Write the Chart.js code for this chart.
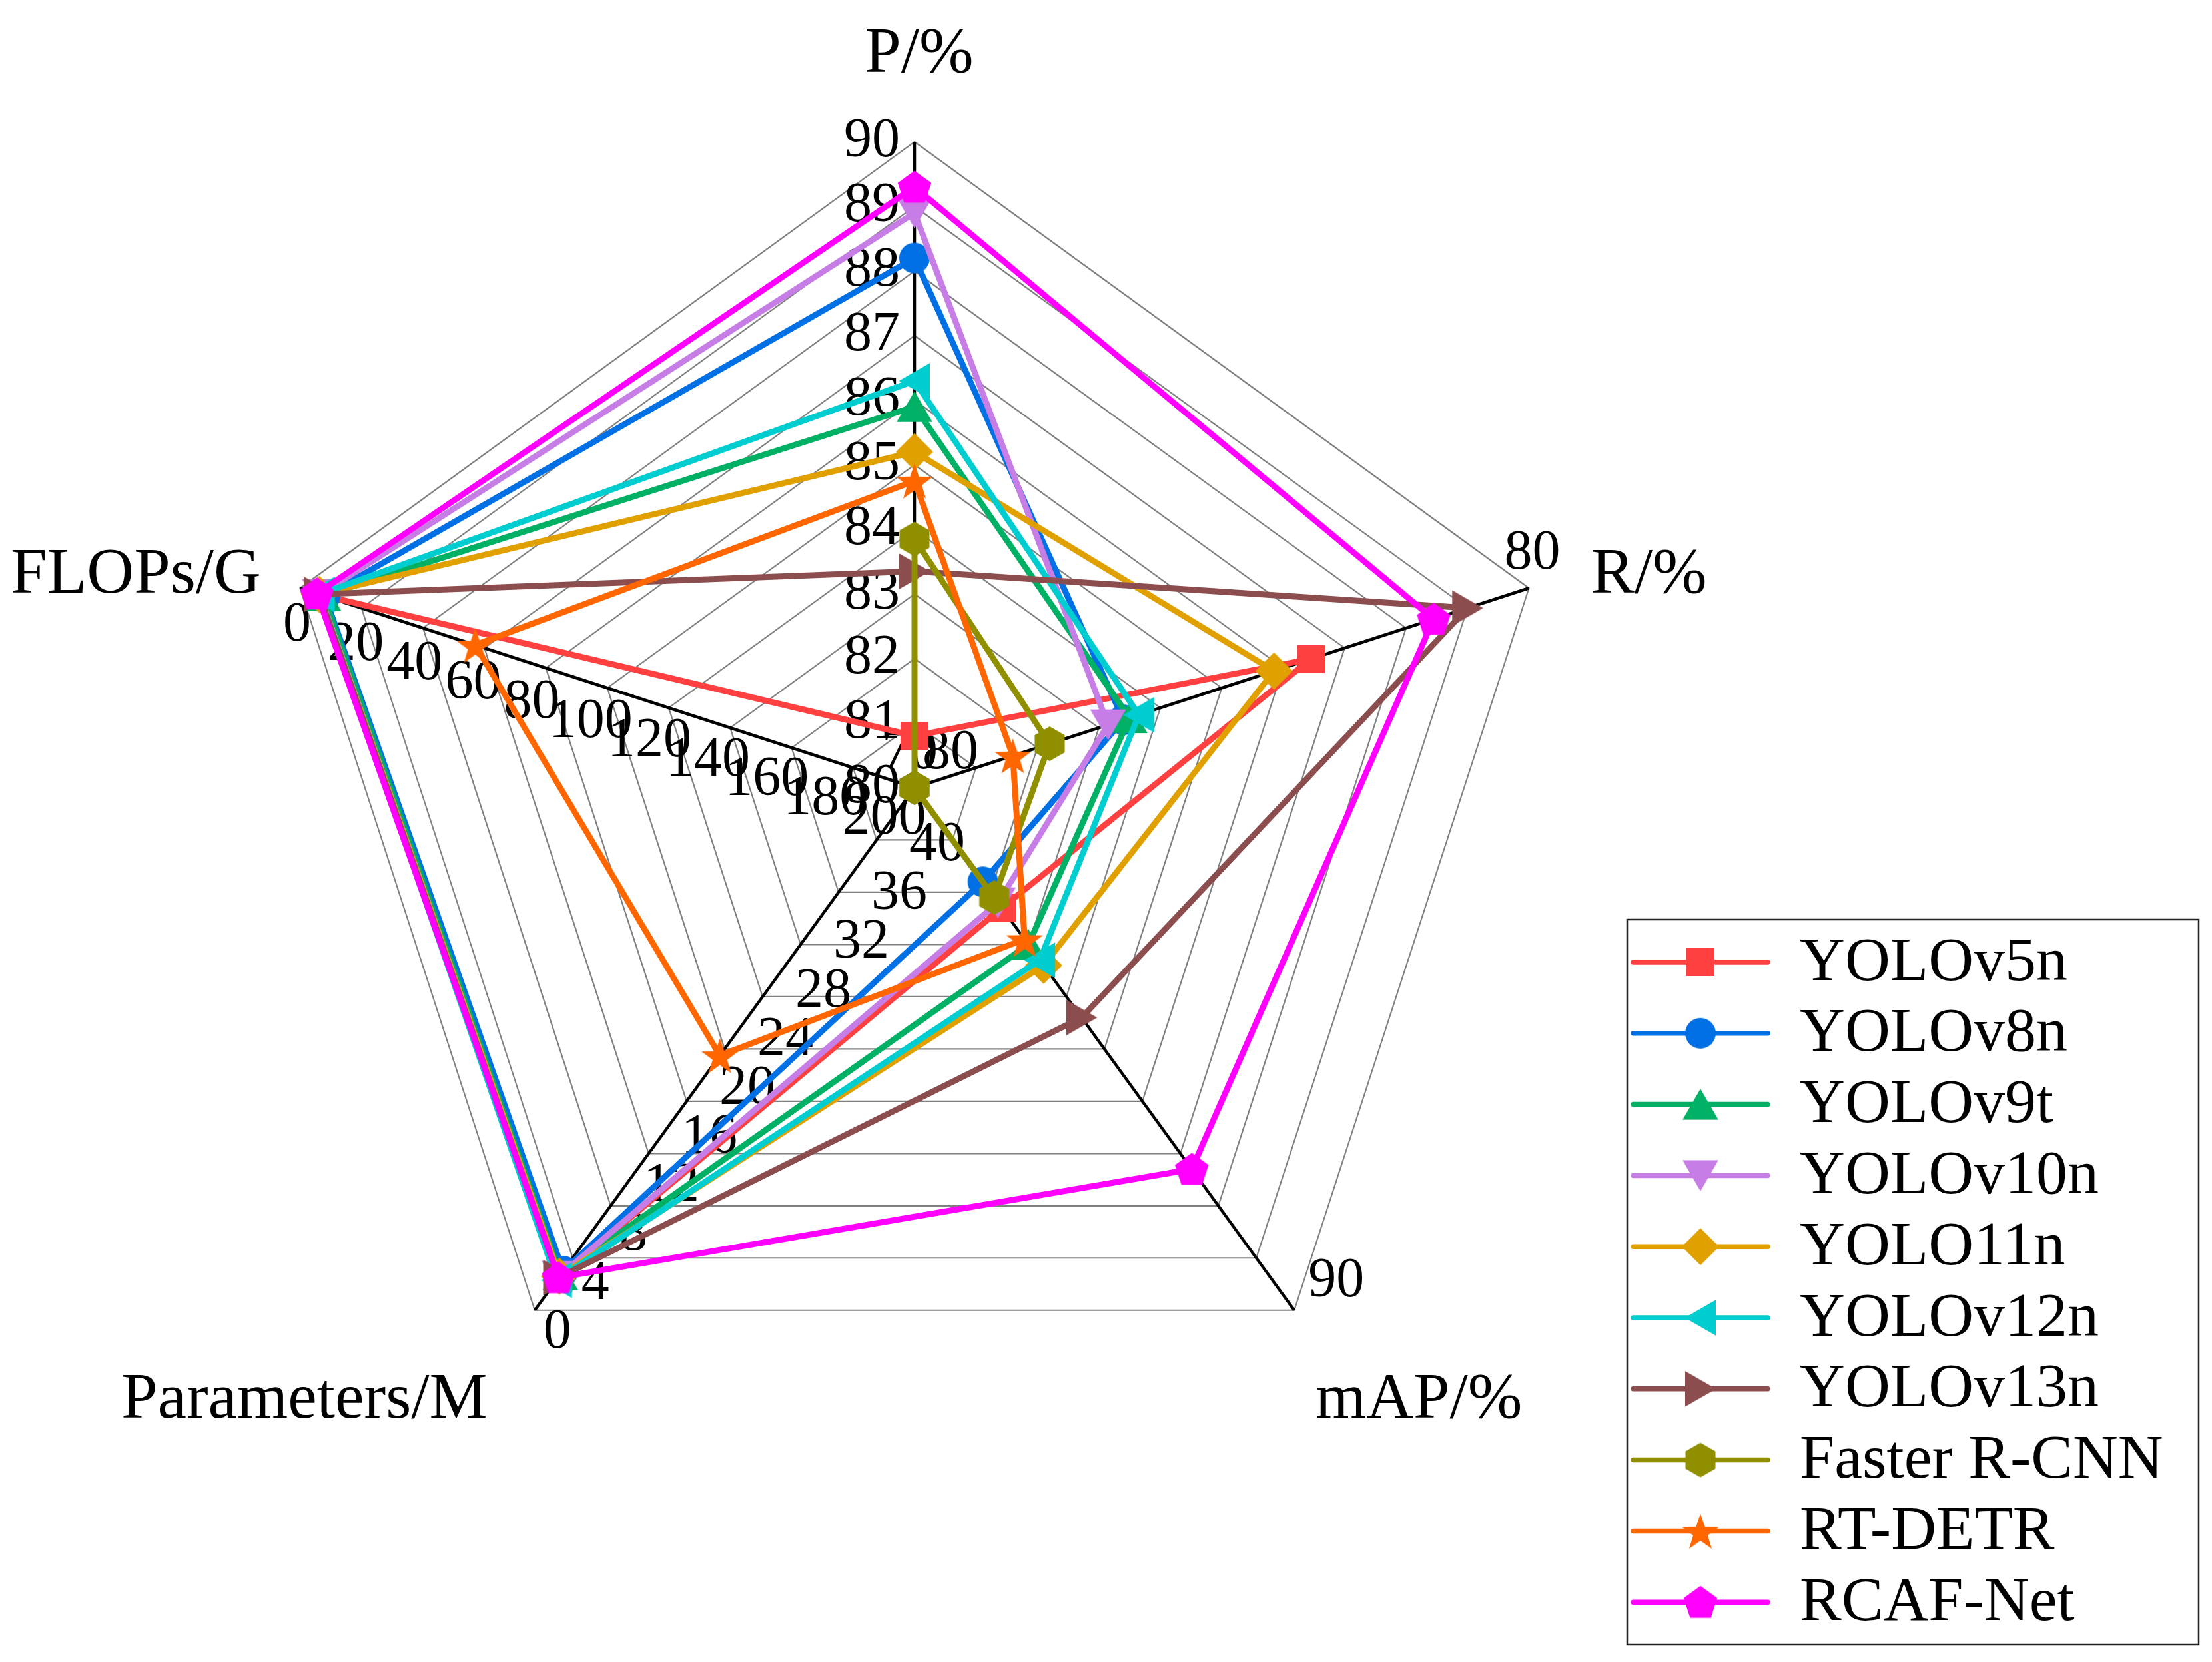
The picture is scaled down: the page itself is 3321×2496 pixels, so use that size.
<!DOCTYPE html>
<html>
<head>
<meta charset="utf-8">
<script src="https://cdn.jsdelivr.net/npm/chart.js@4.4.0/dist/chart.umd.min.js"></script>
<style>
html, body { margin: 0; padding: 0; background: #fff; }
canvas { display: block; }
</style>
</head>
<body>
<canvas id="radar" width="3321" height="2496"></canvas>
<script>
var models = ['YOLOv5n', 'YOLOv8n', 'YOLOv9t', 'YOLOv10n', 'YOLO11n', 'YOLOv12n', 'YOLOv13n', 'Faster R-CNN', 'RT-DETR', 'RCAF-Net'];

var axisNames = ['P/%', 'R/%', 'mAP/%', 'Parameters/M', 'FLOPs/G'];
// value at the centre and at the outer ring of every axis
var axisInner = [80, 70, 80, 40, 200];
var axisOuter = [90, 80, 90, 0, 0];

var precision = [80.8, 88.2, 85.9, 88.9, 85.2, 86.3, 83.35, 83.85, 84.75, 89.3];
var recall    = [76.45, 73.4, 73.5, 73.15, 75.85, 73.65, 79.0, 72.2, 71.6, 78.45];
var mAP       = [82.3, 81.8, 83.0, 82.2, 83.4, 83.3, 84.4, 82.1, 82.9, 87.3];
var params    = [2.5, 3.0, 2.7, 2.6, 2.6, 2.3, 2.5, 40, 19.5, 2.5];
var flops     = [7.1, 8.1, 7.6, 6.5, 6.3, 6.3, 6.2, 200, 57.0, 5.5];

// tick labels per ring, from centre (0) to outer ring (10)
var pTicks = ['80', '81', '82', '83', '84', '85', '86', '87', '88', '89', '90'];
var rTicks = ['70', '', '', '', '', '', '', '', '', '', '80'];
var mapTicks = ['80', '', '', '', '', '', '', '', '', '', '90'];
var paramTicks = ['40', '36', '32', '28', '24', '20', '16', '12', '8', '4', '0'];
var flopsTicks = ['200', '180', '160', '140', '120', '100', '80', '60', '40', '20', '0'];

var colors = ['#FF4040', '#0070E4', '#00B064', '#C77DE6', '#E0A000', '#00CDD0', '#8B4D4D', '#8F8F00', '#FF6600', '#FF00FF'];
var shapes = ['square', 'circle', 'triUp', 'triDown', 'diamond', 'triLeft', 'triRight', 'hexagon', 'star', 'pentagon'];

function ringValue(axis, v) {
    var t = (v - axisInner[axis]) / (axisOuter[axis] - axisInner[axis]) * 10;
    return Math.max(0, Math.min(10, t));
}

function makeMarker(shape, color) {
    var c = document.createElement('canvas');
    c.width = 70;
    c.height = 70;
    var g = c.getContext('2d');
    g.fillStyle = color;
    g.translate(35, 35);
    g.beginPath();
    function poly(n, r, rot, dx, dy) {
        for (var i = 0; i < n; i++) {
            var a = rot + i * 2 * Math.PI / n;
            var x = r * Math.cos(a) + (dx || 0), y = r * Math.sin(a) + (dy || 0);
            if (i) g.lineTo(x, y); else g.moveTo(x, y);
        }
        g.closePath();
    }
    switch (shape) {
        case 'square': g.rect(-21, -21, 42, 42); break;
        case 'circle': g.arc(0, 0, 23, 0, 2 * Math.PI); break;
        case 'triUp': poly(3, 31, -Math.PI / 2, 0, 7.5); break;
        case 'triDown': poly(3, 31, Math.PI / 2, 0, -7.5); break;
        case 'triLeft': poly(3, 31, Math.PI, 7.5, 0); break;
        case 'triRight': poly(3, 31, 0, -7.5, 0); break;
        case 'diamond': poly(4, 28, -Math.PI / 2); break;
        case 'hexagon': poly(6, 26, -Math.PI / 2); break;
        case 'pentagon': poly(5, 26.5, -Math.PI / 2, 0, 2); break;
        case 'star':
            for (var i = 0; i < 10; i++) {
                var r = i % 2 ? 11.5 : 29;
                var a = -Math.PI / 2 + i * Math.PI / 5;
                if (i) g.lineTo(r * Math.cos(a), r * Math.sin(a) + 3);
                else g.moveTo(r * Math.cos(a), r * Math.sin(a) + 3);
            }
            g.closePath();
            break;
    }
    g.fill();
    return c;
}

var markers = shapes.map(function (s, i) { return makeMarker(s, colors[i]); });

var datasets = [];
for (let i = 0; i < models.length; i++) {
    datasets.push({
        label: models[i],
        data: [
            ringValue(0, precision[i]),
            ringValue(1, recall[i]),
            ringValue(2, mAP[i]),
            ringValue(3, params[i]),
            ringValue(4, flops[i])
        ],
        borderColor: colors[i],
        backgroundColor: colors[i],
        borderWidth: 9,
        fill: false,
        tension: 0,
        pointStyle: markers[i],
        pointRadius: 22,
        pointHoverRadius: 22,
        pointBorderWidth: 0,
        order: models.length - i
    });
}

var serif = '"Liberation Serif", "DejaVu Serif", serif';

var axisText = {
    id: 'axisText',
    beforeDatasetsDraw: function (chart) {
        var s = chart.scales.r;
        var g = chart.ctx;
        g.save();
        g.fillStyle = '#000';
        g.font = '84px ' + serif;
        g.textBaseline = 'middle';
        for (let k = 0; k <= 10; k++) {
            var p = s.getPointPositionForValue(0, k);
            g.textAlign = 'right';
            g.fillText(pTicks[k], p.x - 22, p.y);
            g.textAlign = 'center';
            p = s.getPointPositionForValue(1, k);
            g.fillText(rTicks[k], p.x - 7 + 1.2 * k, p.y - 51);
            p = s.getPointPositionForValue(2, k);
            g.fillText(mapTicks[k], p.x + 54 + 0.9 * k, p.y - 51 + 0.8 * k);
            p = s.getPointPositionForValue(3, k);
            g.fillText(paramTicks[k], p.x + 34, p.y + 34 + 5.3 * (10 - k));
            p = s.getPointPositionForValue(4, k);
            g.fillText(flopsTicks[k], p.x - 4.5 - 4.1 * (10 - k), p.y + 57 - (10 - k));
        }
        // axis titles, placed from the outer vertices
        var titleOffsets = [[7, -131], [180, -19], [187, 136], [-346, 136], [-259, -19]];
        g.font = '98px ' + serif;
        for (let a = 0; a < axisNames.length; a++) {
            var q = s.getPointPositionForValue(a, 10);
            if (a === 4) {
                g.textAlign = 'left';
                g.fillText(axisNames[a], 16, q.y + titleOffsets[a][1]);
                g.textAlign = 'center';
            } else {
                g.fillText(axisNames[a], q.x + titleOffsets[a][0], q.y + titleOffsets[a][1]);
            }
        }
        g.restore();
    }
};

var boxLegend = {
    id: 'boxLegend',
    afterDraw: function (chart) {
        var g = chart.ctx;
        var left = 2443, top = 1381, right = 3301, bottom = 2470;
        g.save();
        g.strokeStyle = '#222';
        g.lineWidth = 2.5;
        g.strokeRect(left, top, right - left, bottom - top);
        g.font = '94px ' + serif;
        g.textAlign = 'left';
        g.textBaseline = 'middle';
        g.lineCap = 'round';
        for (let i = 0; i < models.length; i++) {
            var y = 1445 + i * 106.8;
            g.strokeStyle = colors[i];
            g.lineWidth = 7.5;
            g.beginPath();
            g.moveTo(2452, y);
            g.lineTo(2654, y);
            g.stroke();
            g.drawImage(markers[i], 2553 - 35, y - 35);
            g.fillStyle = '#000';
            g.fillText(models[i], 2702, y + 2);
        }
        g.restore();
    }
};

var ctx = document.getElementById('radar').getContext('2d');
new Chart(ctx, {
    type: 'radar',
    data: {
        labels: axisNames,
        datasets: datasets
    },
    plugins: [axisText, boxLegend],
    options: {
        responsive: false,
        animation: false,
        layout: {
            padding: { left: 403, top: 213, right: 978, bottom: 343 }
        },
        plugins: {
            legend: { display: false },
            tooltip: { enabled: false }
        },
        scales: {
            r: {
                min: 0,
                max: 10,
                ticks: { display: false, stepSize: 1 },
                pointLabels: { display: false },
                grid: { color: '#808080', lineWidth: 2.2 },
                angleLines: { color: '#000', lineWidth: 4.5 }
            }
        }
    }
});
</script>
</body>
</html>
